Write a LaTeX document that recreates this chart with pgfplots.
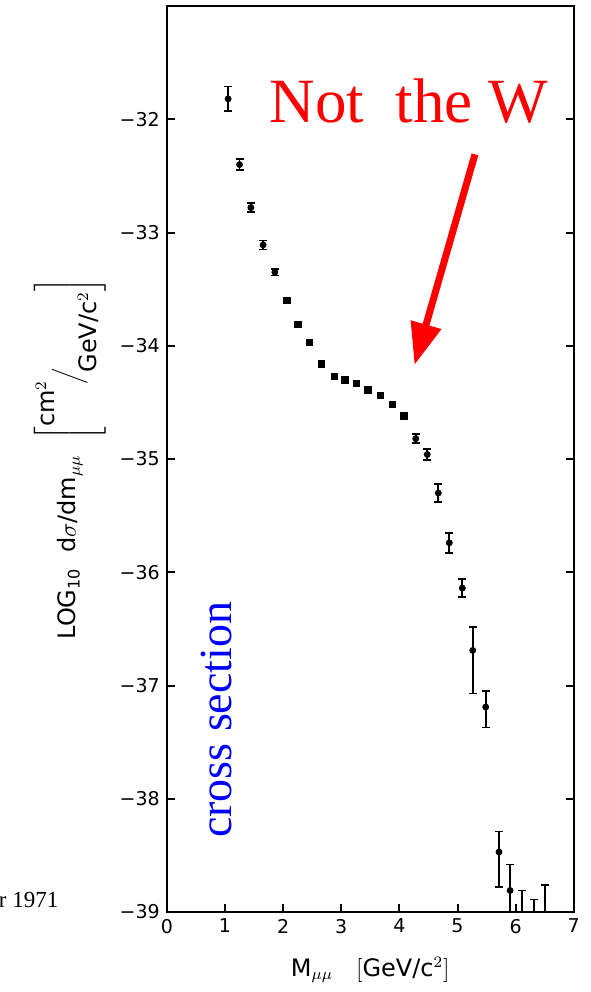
\documentclass[border=0pt]{standalone}
\usepackage{fontspec}
\setmainfont{DejaVu Sans}
\newfontfamily\seriffont{Liberation Serif}
\usepackage{pgfplots}
\pgfplotsset{compat=1.18}
\usetikzlibrary{arrows.meta}

\begin{document}
\begin{tikzpicture}
\path[use as bounding box] (-83.4pt,-40pt) rectangle (211.6pt,456pt);
\begin{axis}[
    scale only axis,
    width=203.5pt, height=453pt,
    xmin=0, xmax=7, ymin=-39, ymax=-31,
    xtick={0,...,7},
    xticklabels={0,1,2,3,4,5,6,7},
    ytick={-39,-38,...,-32},
    yticklabels={−39,−38,−37,−36,−35,−34,−33,−32},
    xtick pos=left,
    ytick pos=both,
    tick align=inside,
    major tick length=4pt,
    axis line style={line width=1pt},
    every tick/.style={black, line width=1pt},
    tick label style={font=\fontsize{9.5}{11}\selectfont},
    label style={font=\fontsize{12}{14}\selectfont},
    xlabel={M$_{\mu\mu}$\ \ \ $\left[\mbox{GeV/c$^2$}\right]$},
    xlabel style={yshift=-5pt},
    ylabel={LOG\textsubscript{10}\ \ d$\sigma$/dm$_{\mu\mu}$\ \ $\left[\raisebox{1.6ex}{cm$^2$}\!\Big/\!\raisebox{-1.6ex}{GeV/c$^2$}\right]$},
    clip=false,
]
% points with visible error bars
\addplot[only marks, mark=*, mark size=1.5pt, black,
    error bars/.cd, y dir=both, y explicit,
    error bar style={line width=0.9pt},
    error mark options={rotate=90, mark size=2pt, line width=0.9pt}]
coordinates {
    (1.055,-31.82) +- (0,0.11)
    (1.251,-32.40) +- (0,0.05)
    (1.446,-32.78) +- (0,0.04)
    (1.657,-33.11) +- (0,0.04)
    (1.859,-33.35) +- (0,0.03)
    (4.281,-34.82) +- (0,0.04)
    (4.480,-34.96) +- (0,0.05)
    (4.670,-35.30) +- (0,0.08)
    (4.859,-35.74) +- (0,0.09)
    (5.083,-36.14) +- (0,0.08)
    (5.262,-36.69) += (0,0.21) -= (0,0.38)
    (5.485,-37.19) += (0,0.14) -= (0,0.18)
    (5.714,-38.47) += (0,0.18) -= (0,0.31)
    (5.904,-38.81) += (0,0.23) -= (0,0.19)
};
% points where the error is smaller than the mark
\addplot[only marks, mark=square*, mark size=1.6pt, black] coordinates {
    (2.065,-33.60) (2.255,-33.81) (2.456,-33.97) (2.663,-34.16)
    (2.880,-34.27) (3.064,-34.30) (3.258,-34.33) (3.460,-34.39)
    (3.678,-34.44) (3.878,-34.52) (4.079,-34.62)
};
% upper limits: cap on top, bar down to the axis
\addplot[only marks, mark=-, mark size=2pt, black, mark options={line width=0.9pt},
    error bars/.cd, y dir=minus, y explicit,
    error bar style={line width=0.9pt},
    error mark=none]
coordinates {
    (6.105,-38.81) +- (0,0.19)
    (6.322,-38.89) +- (0,0.11)
    (6.506,-38.76) +- (0,0.24)
};
\node[anchor=base west, inner sep=0pt, text=red,
    font=\seriffont\fontsize{31.5}{36}\selectfont] at (axis cs:1.76,-32.03) {Not\ \ the W};
\draw[red, line width=3.5pt, -{Triangle[length=21pt,width=15pt]}]
    (axis cs:5.30,-32.31) -- (axis cs:4.26,-34.17);
\node[rotate=90, anchor=base west, inner sep=0pt, text=blue,
    font=\seriffont\fontsize{23}{26}\selectfont] at (axis cs:1.12,-38.35) {cross section};
\node[anchor=base east, inner sep=0pt,
    font=\seriffont\fontsize{11.5}{13}\selectfont] at (axis cs:-1.86,-38.956) {r 1971};
\end{axis}
\end{tikzpicture}
\end{document}
